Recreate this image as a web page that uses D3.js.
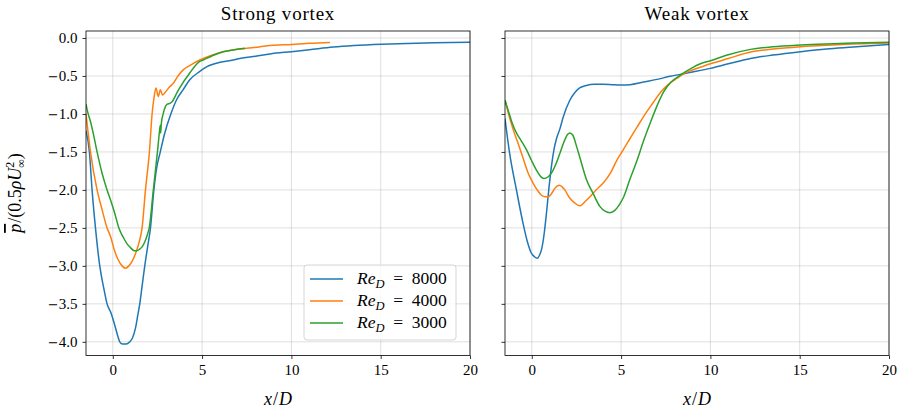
<!DOCTYPE html>
<html>
<head>
<meta charset="utf-8">
<script src="https://cdn.jsdelivr.net/npm/d3@7/dist/d3.min.js"></script>
<style>
  html, body { margin: 0; padding: 0; background: #fff; }
  svg { display: block; font-family: "Liberation Serif", "DejaVu Serif", serif; }
</style>
</head>
<body>
<svg id="chart" width="903" height="413"></svg>
<script>
// ---------- data ----------
const panelTitles = ["Strong vortex", "Weak vortex"];
const seriesLabels = ["8000", "4000", "3000"];
const seriesColors = ["#1f77b4", "#ff7f0e", "#2ca02c"];
const xTicks = [0, 5, 10, 15, 20];
const yTicks = [0.0, -0.5, -1.0, -1.5, -2.0, -2.5, -3.0, -3.5, -4.0];

// Strong vortex
const strong8000X = [-1.5, -1.31, -1.16, -0.97, -0.73, -0.5, -0.32, -0.1, 0.06, 0.25, 0.39, 0.55, 0.75, 0.95, 1.1, 1.27, 1.4, 1.51, 1.65, 1.79, 1.95, 2.11, 2.3, 2.45, 2.66, 2.9, 3.25, 3.6, 3.94, 4.31, 4.87, 5.25, 6.0, 6.74, 7.11, 8.0, 8.8, 10, 11, 12.34, 13.5, 15.05, 16.5, 18, 20];
const strong8000Y = [-1.22, -1.5, -2.0, -2.5, -3.0, -3.3, -3.5, -3.62, -3.74, -3.9, -4.0, -4.03, -4.03, -4.0, -3.95, -3.82, -3.65, -3.5, -3.25, -3.0, -2.75, -2.5, -2.0, -1.72, -1.5, -1.26, -1.0, -0.8, -0.68, -0.55, -0.44, -0.38, -0.32, -0.29, -0.27, -0.24, -0.21, -0.18, -0.155, -0.12, -0.1, -0.083, -0.073, -0.064, -0.056];

const strong4000X = [-1.5, -1.25, -0.88, -0.6, -0.32, -0.13, 0.1, 0.3, 0.52, 0.71, 0.9, 1.08, 1.3, 1.46, 1.64, 1.83, 2.05, 2.2, 2.3, 2.42, 2.55, 2.66, 2.78, 2.95, 3.2, 3.38, 3.65, 3.94, 4.4, 4.87, 5.5, 6.18, 6.8, 7.49, 8.2, 8.8, 10, 11, 12.16];
const strong4000Y = [-1.0, -1.5, -2.0, -2.26, -2.5, -2.61, -2.8, -2.92, -3.0, -3.03, -3.0, -2.94, -2.82, -2.7, -2.5, -2.0, -1.5, -1.0, -0.8, -0.66, -0.77, -0.68, -0.75, -0.71, -0.64, -0.6, -0.5, -0.42, -0.35, -0.29, -0.23, -0.18, -0.155, -0.136, -0.118, -0.1, -0.085, -0.07, -0.058];

const strong3000X = [-1.5, -1.4, -1.25, -1.1, -0.88, -0.6, -0.32, -0.13, 0.1, 0.34, 0.6, 0.8, 0.99, 1.2, 1.35, 1.5, 1.64, 1.8, 1.92, 2.04, 2.27, 2.5, 2.63, 2.66, 2.68, 2.72, 2.82, 2.95, 3.05, 3.2, 3.32, 3.55, 3.79, 4.31, 4.8, 5.06, 5.6, 6.18, 6.8, 7.4];
const strong3000Y = [-0.87, -0.98, -1.1, -1.25, -1.5, -1.78, -2.0, -2.13, -2.3, -2.5, -2.63, -2.71, -2.76, -2.8, -2.8, -2.78, -2.75, -2.68, -2.6, -2.5, -2.0, -1.5, -1.2, -1.15, -1.25, -1.12, -1.0, -0.9, -0.87, -0.86, -0.84, -0.74, -0.64, -0.46, -0.32, -0.29, -0.23, -0.18, -0.155, -0.136];

// Weak vortex
const weak8000X = [-1.5, -1.24, -0.86, -0.49, -0.25, -0.05, 0.15, 0.3, 0.45, 0.54, 0.68, 0.82, 0.95, 1.1, 1.25, 1.39, 1.57, 1.76, 2.13, 2.4, 2.7, 3.05, 3.5, 4.0, 4.5, 4.94, 5.5, 6.25, 7.0, 7.75, 8.5, 9.06, 10, 11, 12.25, 13.5, 15.06, 16.5, 18, 20];
const weak8000Y = [-1.06, -1.52, -2.0, -2.44, -2.68, -2.82, -2.88, -2.9, -2.85, -2.79, -2.6, -2.31, -2.0, -1.69, -1.46, -1.32, -1.2, -1.04, -0.82, -0.72, -0.655, -0.625, -0.61, -0.61, -0.615, -0.62, -0.615, -0.58, -0.545, -0.505, -0.47, -0.445, -0.40, -0.34, -0.27, -0.225, -0.18, -0.145, -0.12, -0.085];

const weak4000X = [-1.5, -1.3, -1.05, -0.75, -0.49, -0.2, 0.07, 0.3, 0.54, 0.75, 0.92, 1.1, 1.29, 1.53, 1.7, 1.85, 2.13, 2.4, 2.7, 3.0, 3.26, 3.6, 4.0, 4.4, 4.76, 5.1, 5.51, 5.9, 6.44, 6.8, 7.19, 7.6, 8.13, 8.6, 9.06, 9.5, 10, 11, 12.25, 13.5, 15.06, 16.5, 18, 20];
const weak4000Y = [-0.82, -1.0, -1.2, -1.4, -1.58, -1.78, -1.91, -2.0, -2.07, -2.09, -2.09, -2.05, -1.98, -1.94, -1.96, -2.0, -2.11, -2.17, -2.21, -2.15, -2.09, -2.0, -1.91, -1.78, -1.61, -1.48, -1.32, -1.17, -0.97, -0.85, -0.72, -0.62, -0.53, -0.46, -0.415, -0.38, -0.34, -0.27, -0.185, -0.145, -0.114, -0.095, -0.08, -0.065];

const weak3000X = [-1.5, -1.3, -1.1, -0.86, -0.6, -0.3, 0.0, 0.26, 0.45, 0.67, 0.9, 1.1, 1.35, 1.57, 1.8, 2.0, 2.13, 2.3, 2.51, 2.7, 3.07, 3.44, 3.82, 4.1, 4.38, 4.65, 4.94, 5.13, 5.51, 5.88, 6.25, 6.63, 7.0, 7.38, 7.8, 8.31, 9.0, 9.44, 10, 11, 12.25, 13.5, 15.06, 16.5, 18, 20];
const weak3000Y = [-0.82, -0.97, -1.12, -1.25, -1.35, -1.47, -1.62, -1.74, -1.81, -1.85, -1.83, -1.78, -1.66, -1.52, -1.37, -1.27, -1.25, -1.28, -1.43, -1.58, -1.87, -2.05, -2.22, -2.28, -2.30, -2.27, -2.18, -2.1, -1.85, -1.62, -1.36, -1.12, -0.9, -0.71, -0.58, -0.49, -0.39, -0.34, -0.30, -0.22, -0.15, -0.115, -0.092, -0.078, -0.067, -0.055];

const panelSeries = [
  [[strong8000X, strong8000Y], [strong4000X, strong4000Y], [strong3000X, strong3000Y]],
  [[weak8000X, weak8000Y], [weak4000X, weak4000Y], [weak3000X, weak3000Y]]
];

// ---------- layout ----------
const svg = d3.select("#chart");
const panelLefts = [86, 505];
const plotW = 384, plotTop = 31, plotBottom = 355.5;
const y = d3.scaleLinear().domain([-4.18, 0.092]).range([plotBottom, plotTop]);

panelLefts.forEach((left, p) => {
  const x = d3.scaleLinear().domain([-1.5, 20]).range([left, left + plotW]);
  const g = svg.append("g");

  // grid
  g.append("g").selectAll("line").data(xTicks).join("line")
    .attr("x1", d => x(d)).attr("x2", d => x(d)).attr("y1", plotTop).attr("y2", plotBottom)
    .attr("stroke", "#b0b0b0").attr("stroke-opacity", 0.5).attr("stroke-width", 0.8);
  g.append("g").selectAll("line").data(yTicks).join("line")
    .attr("x1", left).attr("x2", left + plotW).attr("y1", d => y(d)).attr("y2", d => y(d))
    .attr("stroke", "#b0b0b0").attr("stroke-opacity", 0.5).attr("stroke-width", 0.8);

  // clip
  const clipId = "clip" + p;
  svg.append("clipPath").attr("id", clipId).append("rect")
    .attr("x", left).attr("y", plotTop).attr("width", plotW).attr("height", plotBottom - plotTop);

  // lines
  const line = d3.line().x(d => x(d[0])).y(d => y(d[1])).curve(d3.curveMonotoneX);
  panelSeries[p].forEach((s, i) => {
    const pts = s[0].map((xv, k) => [xv, s[1][k]]);
    g.append("path").datum(pts).attr("d", line)
      .attr("fill", "none").attr("stroke", seriesColors[i]).attr("stroke-width", 1.5)
      .attr("stroke-linejoin", "round").attr("clip-path", `url(#${clipId})`);
  });

  // axes
  const xAxis = d3.axisBottom(x).tickValues(xTicks).tickSize(3.5).tickPadding(5).tickFormat(d3.format("d"));
  const xa = g.append("g").attr("transform", `translate(0,${plotBottom})`).call(xAxis);
  const yAxis = d3.axisLeft(y).tickValues(yTicks).tickSize(3.5).tickPadding(5).tickFormat(() => "");
  const ya = g.append("g").attr("transform", `translate(${left},0)`).call(yAxis);
  [xa, ya].forEach(a => {
    a.select(".domain").remove();
    a.selectAll("line").attr("stroke", "#000").attr("stroke-width", 0.8);
    a.selectAll("text").attr("font-family", "Liberation Serif, serif").attr("font-size", 15).attr("fill", "#000");
  });
  if (p === 0) {
    ya.selectAll(".tick text").each(function (d) {
      const t = d3.select(this);
      if (d < 0) t.append("tspan").attr("font-family", "DejaVu Sans, sans-serif").attr("font-size", 13).text("\u2212");
      t.append("tspan").text(Math.abs(d).toFixed(1));
    });
  }

  // frame
  g.append("rect").attr("x", left).attr("y", plotTop).attr("width", plotW).attr("height", plotBottom - plotTop)
    .attr("fill", "none").attr("stroke", "#000").attr("stroke-width", 0.8);

  // title
  g.append("text").attr("x", left + plotW / 2).attr("y", 20).attr("text-anchor", "middle")
    .attr("font-size", 19).attr("letter-spacing", 0.8).text(panelTitles[p]);

  // x label
  const xl = g.append("text").attr("x", left + plotW / 2).attr("y", 405).attr("text-anchor", "middle").attr("font-size", 18);
  xl.append("tspan").attr("font-style", "italic").text("x");
  xl.append("tspan").attr("dx", 1).text("/");
  xl.append("tspan").attr("font-style", "italic").attr("dx", 1).text("D");
});

// y label
const yl = svg.append("text").attr("transform", "translate(21,193) rotate(-90)")
  .attr("text-anchor", "middle").attr("font-size", 18);
yl.append("tspan").attr("font-style", "italic").attr("text-decoration", "overline").text("p");
yl.append("tspan").attr("dx", 1).text("/(0.5");
yl.append("tspan").attr("font-style", "italic").text("\u03C1U");
yl.append("tspan").attr("dy", -7).attr("font-size", 12).text("2");
yl.append("tspan").attr("dx", -6).attr("dy", 11).attr("font-size", 12).text("\u221E");
yl.append("tspan").attr("dy", -4).text(")");

// legend
const lg = svg.append("g");
lg.append("rect").attr("x", 304).attr("y", 265).attr("width", 152).attr("height", 75).attr("rx", 3)
  .attr("fill", "#fff").attr("fill-opacity", 0.8).attr("stroke", "#cccccc").attr("stroke-width", 0.8);
seriesLabels.forEach((lab, i) => {
  const yy = 279 + i * 22;
  lg.append("line").attr("x1", 310).attr("x2", 343).attr("y1", yy).attr("y2", yy)
    .attr("stroke", seriesColors[i]).attr("stroke-width", 1.5);
  const t = lg.append("text").attr("x", 357).attr("y", yy + 5).attr("font-size", 17.5);
  t.append("tspan").attr("font-style", "italic").text("Re");
  t.append("tspan").attr("font-style", "italic").attr("font-size", 12.5).attr("dy", 4).text("D");
  t.append("tspan").attr("dy", -4).text("\u2002=\u2002" + lab);
});
</script>
</body>
</html>
